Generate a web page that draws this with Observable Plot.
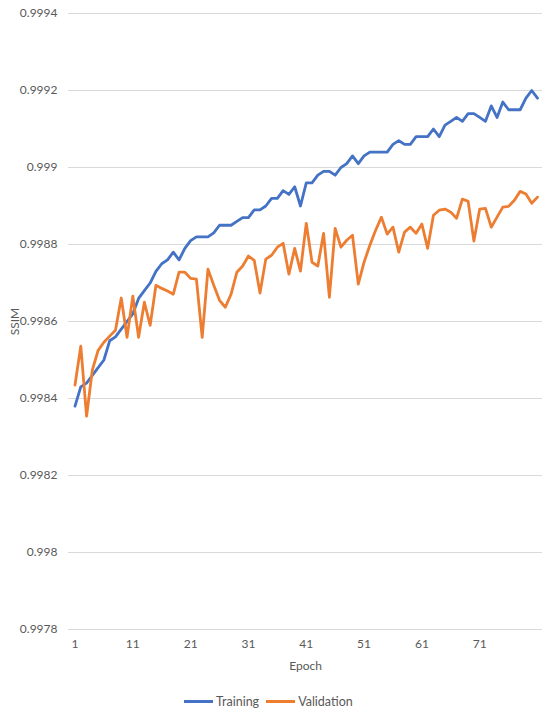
<!DOCTYPE html>
<html>
<head>
<meta charset="utf-8">
<script src="https://cdn.jsdelivr.net/npm/d3@7"></script>
<script src="https://cdn.jsdelivr.net/npm/@observablehq/plot@0.6"></script>
<style>
  body { margin: 0; background: #ffffff; font-family: Lato, "Open Sans", sans-serif; }
  #wrap { position: relative; width: 550px; height: 718px; background: #fff; }
  #legend { position: absolute; top: 694px; left: 184px; display: flex; align-items: center; font-size: 12.5px; color: #595959; font-family: Lato, sans-serif; }
  .sw { display: inline-block; width: 29px; height: 3px; margin-right: 3px; }
  .item { display: flex; align-items: center; margin-right: 7px; }
</style>
</head>
<body>
<div id="wrap">
  <div id="chart"></div>
  <div id="legend"></div>
</div>
<script>
const epochs = [1,2,3,4,5,6,7,8,9,10,11,12,13,14,15,16,17,18,19,20,21,22,23,24,25,26,27,28,29,30,
  31,32,33,34,35,36,37,38,39,40,41,42,43,44,45,46,47,48,49,50,51,52,53,54,55,56,57,58,59,60,
  61,62,63,64,65,66,67,68,69,70,71,72,73,74,75,76,77,78,79,80,81];

const training = [
  0.99838, 0.99843, 0.99844, 0.99846, 0.99848, 0.99850, 0.99855, 0.99856, 0.99858, 0.99860,
  0.99862, 0.99866, 0.99868, 0.99870, 0.99873, 0.99875, 0.99876, 0.99878, 0.99876, 0.99879,
  0.99881, 0.99882, 0.99882, 0.99882, 0.99883, 0.99885, 0.99885, 0.99885, 0.99886, 0.99887,
  0.99887, 0.99889, 0.99889, 0.99890, 0.99892, 0.99892, 0.99894, 0.99893, 0.99895, 0.99890,
  0.99896, 0.99896, 0.99898, 0.99899, 0.99899, 0.99898, 0.99900, 0.99901, 0.99903, 0.99901,
  0.99903, 0.99904, 0.99904, 0.99904, 0.99904, 0.99906, 0.99907, 0.99906, 0.99906, 0.99908,
  0.99908, 0.99908, 0.99910, 0.99908, 0.99911, 0.99912, 0.99913, 0.99912, 0.99914, 0.99914,
  0.99913, 0.99912, 0.99916, 0.99913, 0.99917, 0.99915, 0.99915, 0.99915, 0.99918, 0.99920,
  0.99918
];

const validation = [
  0.998435, 0.998536, 0.998354, 0.998474, 0.998525, 0.998546, 0.998562, 0.998577, 0.998661, 0.998559,
  0.998666, 0.998559, 0.998650, 0.998590, 0.998694, 0.998686, 0.998679, 0.998671, 0.998728, 0.998728,
  0.998712, 0.998710, 0.998559, 0.998736, 0.998694, 0.998655, 0.998637, 0.998671, 0.998728, 0.998744,
  0.998770, 0.998759, 0.998674, 0.998762, 0.998772, 0.998793, 0.998803, 0.998723, 0.998790, 0.998731,
  0.998855, 0.998754, 0.998744, 0.998829, 0.998663, 0.998842, 0.998793, 0.998811, 0.998824, 0.998697,
  0.998754, 0.998798, 0.998837, 0.998871, 0.998827, 0.998845, 0.998780, 0.998832, 0.998845, 0.998829,
  0.998853, 0.998790, 0.998876, 0.998889, 0.998892, 0.998884, 0.998868, 0.998918, 0.998912, 0.998809,
  0.998892, 0.998894, 0.998845, 0.998871, 0.998897, 0.998899, 0.998915, 0.998938, 0.998931, 0.998907,
  0.998923
];

const seriesNames = ["Training", "Validation"];
const seriesColors = ["#4472C4", "#ED7D31"];
const xTicks = [1, 11, 21, 31, 41, 51, 61, 71];
const yTicks = [0.9978, 0.998, 0.9982, 0.9984, 0.9986, 0.9988, 0.999, 0.9992, 0.9994];

const rows = [];
epochs.forEach((e, i) => {
  rows.push({epoch: e, ssim: training[i], series: seriesNames[0]});
  rows.push({epoch: e, ssim: validation[i], series: seriesNames[1]});
});

const H = 685;
const chart = Plot.plot({
  width: 550,
  height: H,
  marginLeft: 68,
  marginRight: 8,
  marginTop: 13,
  marginBottom: H - 629,
  style: {fontFamily: "Lato, 'Open Sans', sans-serif", fontSize: "12px", color: "#595959", background: "#ffffff"},
  x: {domain: [1, 81], insetLeft: 6.5, insetRight: 5},
  y: {domain: [0.9978, 0.9994]},
  color: {domain: seriesNames, range: seriesColors},
  marks: [
    Plot.ruleY(yTicks, {stroke: "#d9d9d9", strokeWidth: 1}),
    Plot.axisY(yTicks, {tickSize: 0, tickPadding: 11, tickFormat: d => String(+d.toFixed(4)),
      label: "SSIM", labelAnchor: "center", labelOffset: 58, labelArrow: "none"}),
    Plot.axisX(xTicks, {tickSize: 0, tickPadding: 10, tickFormat: d => String(d),
      label: "Epoch", labelAnchor: "center", labelOffset: 40, labelArrow: "none"}),
    Plot.line(rows, {x: "epoch", y: "ssim", z: "series", stroke: "series",
      strokeWidth: 2.8, strokeLinejoin: "round", strokeLinecap: "round"})
  ]
});
document.getElementById("chart").appendChild(chart);

const legend = document.getElementById("legend");
seriesNames.forEach((name, i) => {
  const item = document.createElement("div");
  item.className = "item";
  const sw = document.createElement("span");
  sw.className = "sw";
  sw.style.background = seriesColors[i];
  const t = document.createElement("span");
  t.textContent = name;
  item.appendChild(sw);
  item.appendChild(t);
  legend.appendChild(item);
});
</script>
</body>
</html>
